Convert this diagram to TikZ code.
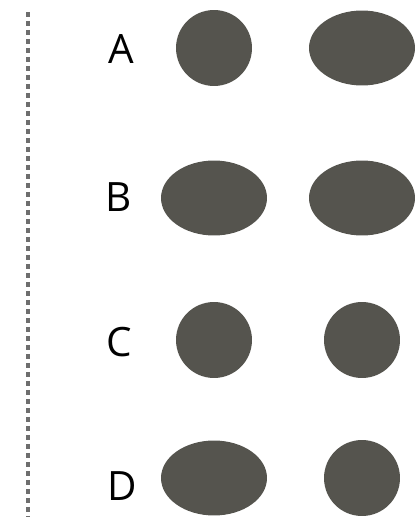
\documentclass[tikz,border=0pt]{standalone}
\usepackage{fontspec}
\setmainfont{Open Sans}
\usetikzlibrary{shapes.geometric}
\definecolor{blobgray}{RGB}{85,84,78}
\definecolor{rulegray}{RGB}{110,110,110}
\tikzset{
  round/.style={circle, fill=blobgray, inner sep=0pt, minimum size=1.52cm},
  oval/.style={ellipse, fill=blobgray, inner sep=0pt, minimum width=2.12cm, minimum height=1.5cm},
  letter/.style={font=\fontsize{23}{27}\selectfont}
}
\begin{document}
\begin{tikzpicture}[x=0.02cm, y=-0.02cm]
\useasboundingbox (0,0) rectangle (414,517);
\draw[rulegray, line width=2.2pt, dash pattern=on 0.11cm off 0.07cm] (28,12) -- (28,517);
\node[letter] (la) at (121,49) {A};
\node[round] (a1) at (214,48) {};
\node[oval] (a2) at (362,48) {};
\node[letter] (lb) at (119,197) {B};
\node[oval] (b1) at (214,198) {};
\node[oval] (b2) at (362,198) {};
\node[letter] (lc) at (119,342) {C};
\node[round] (c1) at (214,340) {};
\node[round] (c2) at (362,340) {};
\node[letter] (ld) at (122,486) {D};
\node[oval] (d1) at (214,478) {};
\node[round] (d2) at (362,478) {};
\end{tikzpicture}
\end{document}
